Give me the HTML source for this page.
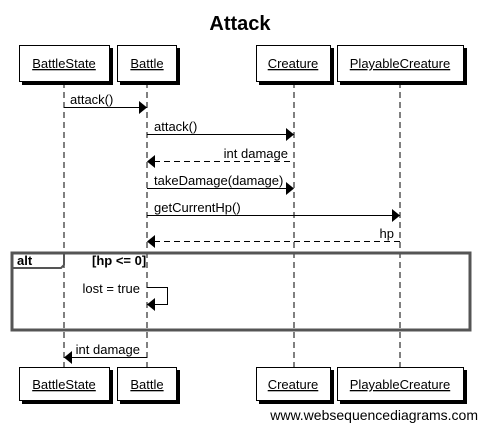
<!DOCTYPE html>
<html><head><style>body{margin:0;background:#fff}svg{display:block}text{font-family:"Liberation Sans",sans-serif;font-size:13px;fill:#000}</style></head><body>
<svg width="480" height="425" xmlns="http://www.w3.org/2000/svg">
<defs><filter id="s"><feDropShadow dx="3" dy="3" stdDeviation="0" flood-color="#000"/></filter></defs>
<text x="240" y="30" text-anchor="middle" style="font-size:20px;font-weight:bold">Attack</text>
<g stroke="#000" stroke-dasharray="6,4" stroke-width="1">
<line x1="64" y1="82" x2="64" y2="367"/><line x1="147" y1="82" x2="147" y2="367"/>
<line x1="294" y1="82" x2="294" y2="367"/><line x1="400" y1="82" x2="400" y2="367"/>
</g>
<g fill="#fff" stroke="#000" filter="url(#s)">
<rect x="19.5" y="45.5" width="90" height="36"/><rect x="117.5" y="45.5" width="59" height="36"/>
<rect x="256.5" y="45.5" width="74" height="36"/><rect x="337.5" y="45.5" width="126" height="36"/>
<rect x="19.5" y="367.5" width="90" height="33"/><rect x="117.5" y="367.5" width="59" height="33"/>
<rect x="256.5" y="367.5" width="74" height="33"/><rect x="337.5" y="367.5" width="126" height="33"/>
</g>
<g text-anchor="middle" text-decoration="underline">
<text x="64" y="68">BattleState</text><text x="147" y="68">Battle</text><text x="293" y="68">Creature</text><text x="400" y="68">PlayableCreature</text>
<text x="64" y="389">BattleState</text><text x="147" y="389">Battle</text><text x="293" y="389">Creature</text><text x="400" y="389">PlayableCreature</text>
</g>
<g stroke="#000" fill="none">
<line x1="64" y1="107.5" x2="140" y2="107.5"/>
<line x1="147" y1="134.5" x2="287" y2="134.5"/>
<line x1="154" y1="161.5" x2="294" y2="161.5" stroke-dasharray="6,4"/>
<line x1="147" y1="188.5" x2="287" y2="188.5"/>
<line x1="147" y1="215.5" x2="393" y2="215.5"/>
<line x1="154" y1="241.5" x2="400" y2="241.5" stroke-dasharray="6,4"/>
<polyline points="147,287.5 167.5,287.5 167.5,304.5 154,304.5"/>
<line x1="71" y1="357.5" x2="147" y2="357.5"/>
</g>
<g fill="#000">
<polygon points="139,101 147,107.5 139,114"/><polygon points="286,128 294,134.5 286,141"/>
<polygon points="155,155 147,161.5 155,168"/><polygon points="286,182 294,188.5 286,195"/>
<polygon points="392,209 400,215.5 392,222"/><polygon points="155,235 147,241.5 155,248"/>
<polygon points="155,298 147,304.5 155,311"/><polygon points="72,351 64,357.5 72,364"/>
</g>
<text x="70" y="104">attack()</text><text x="154" y="131">attack()</text>
<text x="288" y="158" text-anchor="end">int damage</text><text x="154" y="185">takeDamage(damage)</text>
<text x="154" y="212">getCurrentHp()</text><text x="394" y="238" text-anchor="end">hp</text>
<text x="140" y="293" text-anchor="end">lost = true</text><text x="140" y="354" text-anchor="end">int damage</text>
<rect x="12" y="253" width="458" height="77" fill="none" stroke="#555" stroke-width="3"/>
<polyline points="12,268 61,268 64,265 64,253" fill="none" stroke="#555" stroke-width="2"/>
<text x="17" y="265" style="font-weight:bold">alt</text>
<text x="92" y="265" style="font-weight:bold">[hp &lt;= 0]</text>
<text x="478" y="420" text-anchor="end" style="font-size:14px">www.websequencediagrams.com</text>
</svg>
</body></html>
